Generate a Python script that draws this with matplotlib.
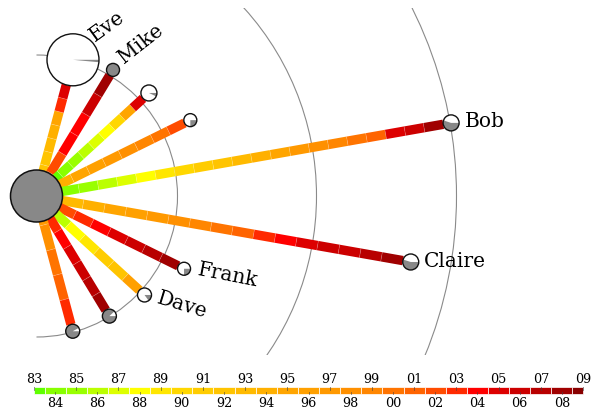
import numpy as np
import matplotlib
matplotlib.use("Agg")
import matplotlib.pyplot as plt
from matplotlib.patches import Circle, Wedge, Arc, Rectangle
from matplotlib.collections import LineCollection

# ---------------- data ----------------
years = list(range(1983, 2010))
year_labels = [f"{y % 100:02d}" for y in years]

names = ["Eve", "Mike", "", "", "Bob", "Claire", "Frank", "Dave", "", ""]
angles = [75, 58.75, 42.5, 26.25, 10, -10, -26.25, -42.5, -58.75, -75]
distances = [141, 147.5, 152.5, 171.5, 421, 380, 164.5, 146.5, 140.5, 140]
node_sizes = [26, 6.5, 8, 6.5, 8, 8, 6.5, 7, 7, 7]
gray_share = [0.015, 1.0, 0.07, 0.25, 0.55, 0.55, 0.25, 0.15, 0.88, 0.92]

ray_years = [
    [1991, 1992, 1992, 1993, 1994, 1995, 2003, 2005],                       # Eve
    [2001, 2002, 2004, 2004, 2006, 2008],                                   # Mike
    [1983, 1983, 1984, 1985, 1986, 1987, 1988, 1990, 1995, 2005],           # unnamed
    [1993, 1994, 1995, 1996, 1997, 1998, 1999, 2000, 2002],                 # unnamed
    [1983, 1984, 1985, 1986, 1987, 1988, 1989, 1990, 1991, 1992, 1993,
     1994, 1995, 1997, 1998, 1999, 2000, 2001, 2005, 2006, 2008],           # Bob
    [1993, 1993, 1994, 1995, 1996, 1997, 1998, 1999, 2000, 2001, 2003,
     2004, 2005, 2006, 2006, 2007, 2008],                                   # Claire
    [2001, 2002, 2003, 2004, 2005, 2006, 2007, 2008],                       # Frank
    [1986, 1986, 1988, 1989, 1991, 1992, 1996],                             # Dave
    [2002, 2003, 2004, 2005, 2006, 2007, 2008],                             # unnamed
    [1997, 1998, 2000, 2001, 2003],                                         # unnamed
]
ring_levels = [141, 280, 420]

# ---------------- style ----------------
year_colors = ["#5fff00", "#88ff00", "#99ff00", "#bbff00", "#ddff00", "#ffff00",
               "#ffe600", "#ffd700", "#ffcc00", "#ffc400", "#ffba00", "#ffb000",
               "#ffa500", "#ffa000", "#ff9900", "#ff9000", "#ff8600", "#ff7400",
               "#ff6400", "#ff4c00", "#ff2a00", "#ff0000", "#dd0000", "#cc0000",
               "#b80000", "#a00000", "#880000"]
color_of = dict(zip(years, year_colors))

W, H = 591, 411
CX, CY = 36.5, H - 196
RAY_W = 9.4  # px
label_style = {  # offset (px, y up), rotation
    "Eve": ((22, 18), 36), "Mike": ((11, 6), 38), "Bob": ((14, -4), 0),
    "Claire": ((13.5, -5), 0), "Frank": ((13, -6), -11), "Dave": ((11.5, -8), -17),
}
serif = "DejaVu Serif"

fig = plt.figure(figsize=(W / 100, H / 100), dpi=100)
ax = fig.add_axes([0, 0, 1, 1])
ax.set_xlim(0, W)
ax.set_ylim(0, H)
ax.axis("off")

# rings
clip = Rectangle((0, H - 355), W, 347, transform=ax.transData)
for r in ring_levels:
    arc = Arc((CX, CY), 2 * r, 2 * r, theta1=-90, theta2=90, color="#8a8a8a",
              lw=0.8, zorder=0)
    ax.add_patch(arc)
    arc.set_clip_path(clip)

# rays
for ang, d, ns, yl in zip(angles, distances, node_sizes, ray_years):
    a = np.deg2rad(ang)
    ux, uy = np.cos(a), np.sin(a)
    r0, r1 = 4.0, d - ns
    edges = np.linspace(r0, r1, len(yl) + 1)
    segs = [[(CX + edges[i] * ux, CY + edges[i] * uy),
             (CX + edges[i + 1] * ux, CY + edges[i + 1] * uy)]
            for i in range(len(yl))]
    lc = LineCollection(segs, colors=[color_of[y] for y in yl],
                        linewidths=RAY_W * 0.72, capstyle="butt", zorder=1)
    ax.add_collection(lc)
    # faint separators between segments
    h = RAY_W / 2
    seps = [[(CX + e * ux - h * uy, CY + e * uy + h * ux),
             (CX + e * ux + h * uy, CY + e * uy - h * ux)] for e in edges[1:-1]]
    ax.add_collection(LineCollection(seps, colors="white", linewidths=0.5,
                                     alpha=0.25, zorder=1.5))

# center node
ax.add_patch(Circle((CX, CY), 26, facecolor="#888888", edgecolor="#111111",
                    lw=1.1, zorder=3))

# nodes
for name, ang, d, ns, g in zip(names, angles, distances, node_sizes, gray_share):
    a = np.deg2rad(ang)
    x, y = CX + d * np.cos(a), CY + d * np.sin(a)
    ax.add_patch(Circle((x, y), ns, facecolor="white", edgecolor="none", zorder=4))
    if g >= 0.999:
        ax.add_patch(Circle((x, y), ns, facecolor="#888888", edgecolor="none", zorder=4))
    else:
        ax.add_patch(Wedge((x, y), ns, -360 * g, 0, facecolor="#888888",
                           edgecolor="none", zorder=4))
    ax.add_patch(Circle((x, y), ns, facecolor="none", edgecolor="#111111",
                        lw=1.0, zorder=5))
    if name:
        (ox, oy), rot = label_style[name]
        ax.text(x + ox, y + oy, name, fontsize=14.5, family=serif, rotation=rot,
                rotation_mode="anchor", ha="left", va="baseline", zorder=6)

# legend colour bar
x0, x1 = 34, 583
yb0, yb1 = H - 394, H - 387
step = (x1 - x0) / (len(years) - 1)
for i, (lab, col) in enumerate(zip(year_labels, year_colors)):
    xc = x0 + i * step
    left, right = max(x0, xc - step / 2), min(x1, xc + step / 2)
    ax.add_patch(Rectangle((left, yb0), right - left, yb1 - yb0, facecolor=col,
                           edgecolor="white", lw=0.5, zorder=2))
    if i % 2 == 0:
        ax.plot([xc, xc], [yb1 - 2.5, yb1], color="#444444", lw=0.6, alpha=0.7, zorder=3)
        ax.text(xc, H - 379.5, lab, fontsize=9.2, family=serif, ha="center",
                va="center", zorder=3)
    else:
        ax.plot([xc, xc], [yb0, yb0 + 2.5], color="#444444", lw=0.6, alpha=0.7, zorder=3)
        ax.text(xc, H - 403, lab, fontsize=9.2, family=serif, ha="center",
                va="center", zorder=3)

fig.savefig("out.png", dpi=100)
